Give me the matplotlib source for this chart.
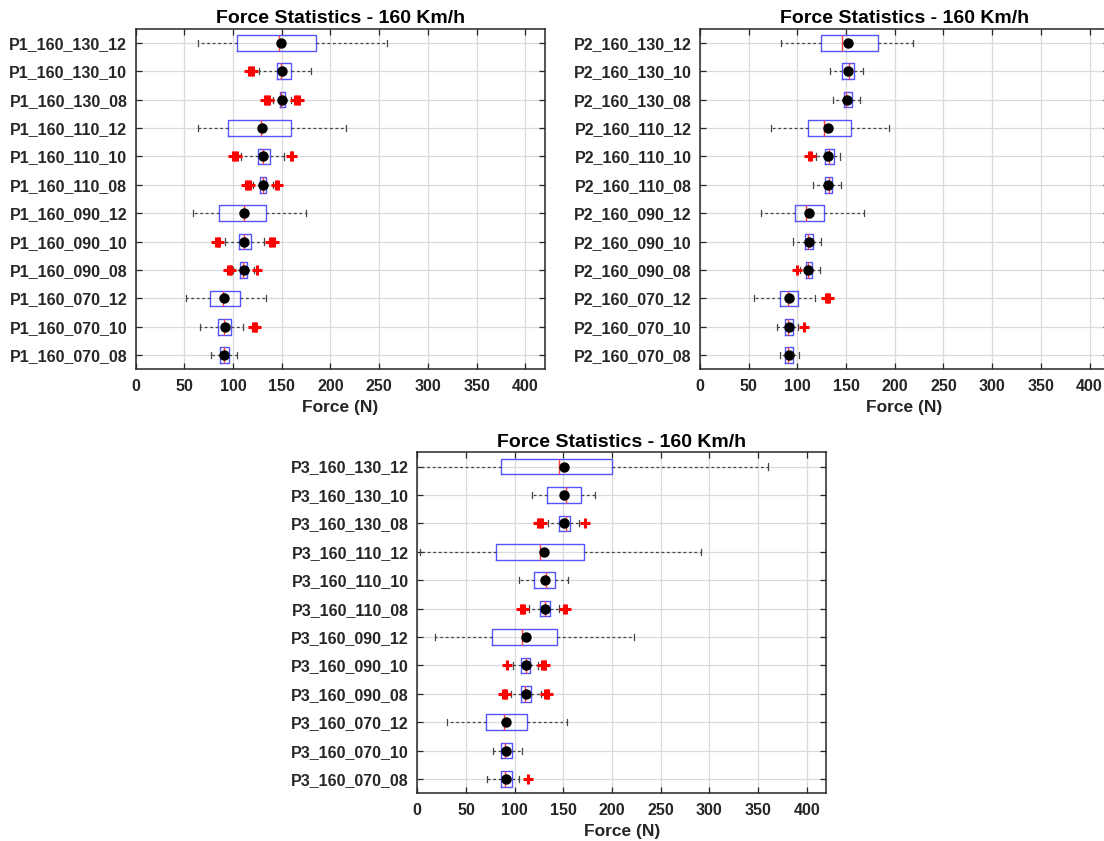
import matplotlib
matplotlib.use("Agg")
import matplotlib.pyplot as plt

plt.rcParams['font.family'] = ['Liberation Sans', 'DejaVu Sans']
plt.rcParams['font.weight'] = 'bold'

TITLE = "Force Statistics - 160 Km/h"
XLABEL = "Force (N)"
x_ticks = [0, 50, 100, 150, 200, 250, 300, 350, 400]
cases = ["130_12", "130_10", "130_08", "110_12", "110_10", "110_08",
         "090_12", "090_10", "090_08", "070_12", "070_10", "070_08"]

# ---- P1 (rows listed top to bottom) ----
p1_labels = ["P1_160_" + c for c in cases]
p1_whislo = [64, 127, 141, 64, 108, 120, 59, 92, 100, 52, 66, 77]
p1_q1 = [104.5, 144.6, 147.9, 94.7, 125.8, 127.6, 86, 105.6, 107, 76.6, 84.2, 86.8]
p1_med = [147.5, 149.3, 149.7, 128.3, 130.5, 130.9, 111, 111, 110.6, 89.7, 91, 90.4]
p1_q3 = [184.7, 159.8, 153.7, 159.4, 138.1, 134.1, 133.8, 118.9, 114.3, 106.6, 98.3, 95.4]
p1_whishi = [258.5, 180, 159, 216, 152, 141, 174.6, 132, 121, 133.8, 110, 104]
p1_mean = [149.7, 150, 150.4, 129.8, 130.5, 130.9, 111, 111.4, 111, 91, 91.5, 91]
p1_fliers = [[], [116, 118, 120], [133, 135, 137, 164, 166, 168], [],
             [100, 102, 104, 159, 161], [113, 115, 117, 144, 146], [],
             [82, 84, 86, 138, 140, 142], [95, 97, 98, 125], [], [120, 122, 124], []]

# ---- P2 ----
p2_labels = ["P2_160_" + c for c in cases]
p2_whislo = [83, 133.6, 136.4, 73, 119, 116.4, 62.5, 95.7, 103, 55, 78.6, 82]
p2_q1 = [123.9, 145.7, 147.9, 111, 128.2, 127.9, 97.1, 107.9, 108.9, 82.1, 87.1, 87.5]
p2_med = [146, 152.9, 150.4, 127.1, 132, 132.1, 109.3, 111.4, 111, 90.7, 90, 90]
p2_q3 = [183.2, 158.2, 156.4, 155.4, 137.1, 135.7, 127.1, 116.4, 115, 100.7, 95, 95]
p2_whishi = [219, 167, 164.3, 194, 144, 145, 168.6, 124.3, 123, 118, 101, 101.4]
p2_mean = [151.8, 151.8, 151, 131.8, 131.8, 131.4, 111.8, 111.8, 111.4, 91.8, 91, 91]
p2_fliers = [[], [], [], [], [112, 114], [], [], [], [100], [129, 131, 132], [107], []]

# ---- P3 ----
p3_labels = ["P3_160_" + c for c in cases]
p3_whislo = [-8, 117.7, 134, 2.6, 104.9, 115, 18.3, 98, 96, 31, 77.5, 71.6]
p3_q1 = [86.3, 133.1, 145.5, 81.2, 119.9, 125.8, 77.2, 106.8, 106.8, 70.1, 86.3, 86.3]
p3_med = [145.5, 152.5, 152.5, 125.8, 132, 131.6, 107.9, 111.2, 110.5, 88.8, 90.3, 90.3]
p3_q3 = [200.4, 168.2, 156.5, 171.1, 141.5, 136, 143, 115.5, 116.6, 112.2, 96.9, 96.9]
p3_whishi = [360.5, 182.8, 166, 291.4, 154.7, 145, 223, 124, 127, 153.8, 108, 104]
p3_mean = [150.3, 151, 150.6, 130.5, 130.9, 130.9, 111.2, 111.2, 111.2, 91, 91, 91]
p3_fliers = [[], [], [124, 126, 128, 172], [], [], [106, 108, 110, 151, 153], [],
             [92, 128, 130, 131], [88, 90, 91, 131, 133, 134], [], [], [113.6]]

TEXT_C = '#262626'


def draw_panel(ax, labels, whislo, q1, med, q3, whishi, mean, fliers):
    n = len(labels)
    stats = []
    for i in range(n):
        stats.append(dict(label=labels[i], whislo=whislo[i], q1=q1[i], med=med[i],
                          q3=q3[i], whishi=whishi[i], mean=mean[i], fliers=fliers[i]))
    positions = list(range(n, 0, -1))
    ax.bxp(stats, positions=positions, orientation='horizontal', widths=0.55,
           capwidths=0.22, showmeans=True, showfliers=True,
           boxprops=dict(color='#5555ff', linewidth=1.0),
           medianprops=dict(color='#ff4040', linewidth=1.0),
           whiskerprops=dict(color='#444444', linewidth=0.9, linestyle=(0, (2.2, 2.2))),
           capprops=dict(color='#444444', linewidth=0.9),
           meanprops=dict(marker='o', markerfacecolor='black', markeredgecolor='black',
                          markersize=6.5),
           flierprops=dict(marker='+', markeredgecolor='red', markersize=7,
                           markeredgewidth=2.2, linestyle='none'))
    ax.set_xlim(0, 420)
    ax.set_ylim(0.5, n + 0.5)
    ax.set_xticks(x_ticks)
    ax.set_xticklabels([str(t) for t in x_ticks])
    ax.set_yticks(positions)
    ax.set_yticklabels(labels)
    ax.grid(True, color='#dadada', linewidth=0.9)
    ax.set_axisbelow(True)
    ax.tick_params(axis='both', direction='in', top=True, right=True, length=4,
                   width=0.9, colors=TEXT_C, labelsize=11.5)
    ax.tick_params(axis='x', pad=7)
    ax.tick_params(axis='y', pad=6)
    for s in ax.spines.values():
        s.set_color(TEXT_C)
        s.set_linewidth(1.1)
    for lbl in ax.get_xticklabels() + ax.get_yticklabels():
        lbl.set_fontweight('bold')
    ax.set_title(TITLE, fontsize=14, fontweight='bold', color='black', pad=4)
    ax.set_xlabel(XLABEL, fontsize=12.5, fontweight='bold', color=TEXT_C, labelpad=4)


fig = plt.figure(figsize=(11.04, 8.41), dpi=100)
W, H = 1104.0, 841.0
ax1 = fig.add_axes([135.7 / W, 1 - 369.3 / H, 409 / W, 340.6 / H])
ax2 = fig.add_axes([700 / W, 1 - 369.3 / H, 409 / W, 340.6 / H])
ax3 = fig.add_axes([417.3 / W, 1 - 793.3 / H, 409 / W, 341 / H])

draw_panel(ax1, p1_labels, p1_whislo, p1_q1, p1_med, p1_q3, p1_whishi, p1_mean, p1_fliers)
draw_panel(ax2, p2_labels, p2_whislo, p2_q1, p2_med, p2_q3, p2_whishi, p2_mean, p2_fliers)
draw_panel(ax3, p3_labels, p3_whislo, p3_q1, p3_med, p3_q3, p3_whishi, p3_mean, p3_fliers)

fig.savefig("out.png", dpi=100)
